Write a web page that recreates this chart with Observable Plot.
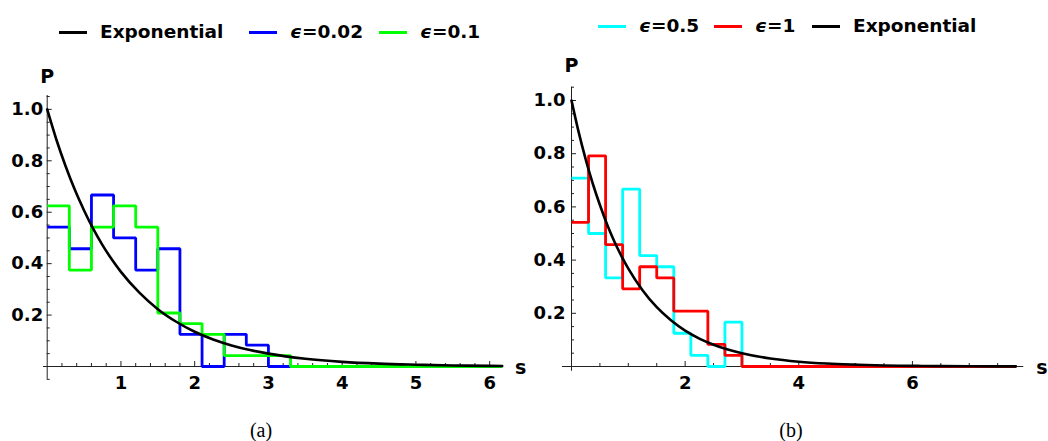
<!DOCTYPE html>
<html>
<head>
<meta charset="utf-8">
<script src="https://cdn.jsdelivr.net/npm/d3@7"></script>
<script src="https://cdn.jsdelivr.net/npm/@observablehq/plot@0.6"></script>
<style>
html, body { margin: 0; padding: 0; background: #fff; }
#root { position: relative; width: 1048px; height: 441px; overflow: hidden; font-family: "DejaVu Sans", sans-serif; }
.item { position: absolute; display: flex; align-items: center; font-weight: bold; font-size: 18.5px; white-space: nowrap; color: #000; line-height: normal; }
.item .sw { display: inline-block; width: 28px; height: 3px; margin-right: 13px; position: relative; top: 1px; }
.item i { font-style: italic; }
.chart { position: absolute; top: 60px; }
.cap { position: absolute; font-family: "Liberation Serif", serif; font-size: 20px; line-height: 20px; transform: translateX(-50%); color: #000; }
</style>
</head>
<body>
<div id="root"></div>
<script>
// ---------------- data ----------------
const binEdges = [0, 0.3, 0.6, 0.9, 1.2, 1.5, 1.8, 2.1, 2.4, 2.7, 3.0, 3.3];
const pEps002 = [0.542, 0.458, 0.667, 0.500, 0.375, 0.458, 0.125, 0.000, 0.125, 0.083, 0.000, 0.000];
const pEps01  = [0.625, 0.375, 0.542, 0.625, 0.542, 0.208, 0.167, 0.125, 0.042, 0.042, 0.042, 0.000];
const pEps05  = [0.708, 0.500, 0.333, 0.667, 0.417, 0.375, 0.125, 0.042, 0.000, 0.167, 0.000, 0.000];
const pEps1   = [0.542, 0.792, 0.458, 0.292, 0.375, 0.333, 0.208, 0.208, 0.083, 0.042, 0.000, 0.000];

// Exponential reference curve
const expS = [0, 0.125, 0.25, 0.375, 0.5, 0.625, 0.75, 0.875, 1, 1.25, 1.5, 1.75, 2, 2.25, 2.5, 2.75, 3, 3.5, 4, 4.5, 5, 5.5, 6, 6.17, 6.5, 7, 7.5, 7.82];
const expP = [1.000, 0.882, 0.779, 0.687, 0.607, 0.535, 0.472, 0.417, 0.368, 0.287, 0.223, 0.174, 0.135, 0.105, 0.082, 0.064, 0.050, 0.030, 0.018, 0.011, 0.007, 0.004, 0.0025, 0.0021, 0.0015, 0.0009, 0.0006, 0.0004];

const xTicksA = [1, 2, 3, 4, 5, 6];
const xTickLabelsA = ["1", "2", "3", "4", "5", "6"];
const xTicksB = [2, 4, 6];
const xTickLabelsB = ["2", "4", "6"];
const yTicks = [0.2, 0.4, 0.6, 0.8, 1.0];
const yTickLabels = ["0.2", "0.4", "0.6", "0.8", "1.0"];

const seriesNamesA = ["Exponential", "ϵ=0.02", "ϵ=0.1"];
const seriesColorsA = ["#000000", "#0000ff", "#00ff00"];
const seriesNamesB = ["ϵ=0.5", "ϵ=1", "Exponential"];
const seriesColorsB = ["#00ffff", "#ff0000", "#000000"];

const captions = ["(a)", "(b)"];

// ---------------- layout ----------------
const root = document.getElementById("root");
const axisColor = "#222";

function legend(names, colors, lefts, top) {
  names.forEach((n, i) => {
    const d = document.createElement("div");
    d.className = "item";
    d.style.left = lefts[i] + "px";
    d.style.top = top + "px";
    const sw = document.createElement("span");
    sw.className = "sw";
    sw.style.background = colors[i];
    d.appendChild(sw);
    const t = document.createElement("span");
    if (n.startsWith("ϵ")) {
      const it = document.createElement("i");
      it.textContent = "ϵ";
      t.appendChild(it);
      t.appendChild(document.createTextNode(n.slice(1)));
    } else t.textContent = n;
    d.appendChild(t);
    root.appendChild(d);
  });
}
legend(seriesNamesA, seriesColorsA, [59, 249, 379], 21);
legend(seriesNamesB, seriesColorsB, [598, 714, 812], 14.5);

function stepData(vals, sEnd) {
  return binEdges.map((s, i) => ({s, P: vals[i]})).concat([{s: sEnd, P: 0}]);
}

function panel(cfg) {
  const {left, width, height, mL, mR, mT, mB, xMax, yMax, xAxisStart, yAxisBottom,
         xMajor, xLabels, xMinor, yMinor, series, sEnd, yLabelDx, pDy, sDx} = cfg;
  const expData = expS.map((s, i) => ({s, P: expP[i]})).filter(d => d.s <= sEnd + 1e-9);
  const marks = [
    Plot.ruleY([0], {x1: xAxisStart, x2: xMax, stroke: axisColor, strokeWidth: 1}),
    Plot.ruleX([0], {y1: yAxisBottom, y2: yMax, stroke: axisColor, strokeWidth: 1}),
    Plot.ruleX(xMinor, {y1: 0, y2: 0, insetTop: -3, stroke: axisColor, strokeWidth: 1}),
    Plot.ruleX(xMajor, {y1: 0, y2: 0, insetTop: -5, stroke: axisColor, strokeWidth: 1}),
    Plot.ruleY(yMinor, {x1: 0, x2: 0, insetRight: -3, stroke: axisColor, strokeWidth: 1}),
    Plot.ruleY(yTicks, {x1: 0, x2: 0, insetRight: -5, stroke: axisColor, strokeWidth: 1}),
    Plot.text(xMajor, {x: d => d, y: 0, dy: 17, text: (d, i) => xLabels[i], textAnchor: "middle", lineAnchor: "middle"}),
    Plot.text(yTicks, {x: 0, y: d => d, dx: yLabelDx, text: (d, i) => yTickLabels[i], textAnchor: "end", lineAnchor: "middle"}),
  ];
  series.forEach(sr => {
    marks.push(Plot.line(stepData(sr.vals, sEnd), {x: "s", y: "P", curve: "step-after", stroke: sr.color, strokeWidth: 2.8, strokeLinejoin: "miter", strokeLinecap: "butt"}));
  });
  marks.push(Plot.line(expData, {x: "s", y: "P", curve: "monotone-x", stroke: "#000", strokeWidth: 2.6}));
  marks.push(Plot.text(["P"], {frameAnchor: "top-left", dy: pDy, text: d => d, textAnchor: "middle", lineAnchor: "bottom", fontSize: 19}));
  marks.push(Plot.text(["s"], {frameAnchor: "bottom-right", dx: sDx, dy: 7, text: d => d, textAnchor: "middle", lineAnchor: "bottom", fontSize: 19}));

  const svg = Plot.plot({
    width, height,
    marginLeft: mL, marginRight: mR, marginTop: mT, marginBottom: mB,
    x: {domain: [0, xMax], axis: null},
    y: {domain: [0, yMax], axis: null},
    style: "font-family:'DejaVu Sans',sans-serif;font-weight:bold;font-size:18px;background:transparent;overflow:visible;color:#000;",
    marks
  });
  svg.classList.add("chart");
  svg.style.left = left + "px";
  svg.style.position = "absolute";
  svg.style.top = "60px";
  root.appendChild(svg);
}

const minorX_A = d3.range(1, 31).map(k => k * 0.2).filter(v => Math.abs(v - Math.round(v)) > 1e-6);
const minorX_B = d3.range(1, 16).map(k => k * 0.5).filter(v => ![2, 4, 6].includes(v));
const minorY_A = d3.range(-1, 22).map(k => k * 0.05).filter(v => Math.abs(v) > 1e-6 && !yTicks.some(t => Math.abs(t - v) < 1e-6));
const minorY_B = d3.range(1, 22).map(k => k * 0.05).filter(v => !yTicks.some(t => Math.abs(t - v) < 1e-6));

panel({
  left: 0, width: 530, height: 340, mL: 46.7, mR: 28.3, mT: 35, mB: 34,
  xMax: 6.17, yMax: 1.054, xAxisStart: -0.05, yAxisBottom: -0.05,
  xMajor: xTicksA, xLabels: xTickLabelsA, xMinor: minorX_A, yMinor: minorY_A,
  series: [{vals: pEps002, color: seriesColorsA[1]}, {vals: pEps01, color: seriesColorsA[2]}],
  sEnd: 6.17, yLabelDx: -4, pDy: -13, sDx: 18.5
});
panel({
  left: 530, width: 518, height: 340, mL: 41, mR: 24.7, mT: 26.7, mB: 34,
  xMax: 7.96, yMax: 1.05, xAxisStart: -0.16, yAxisBottom: -0.018,
  xMajor: xTicksB, xLabels: xTickLabelsB, xMinor: minorX_B, yMinor: minorY_B,
  series: [{vals: pEps05, color: seriesColorsB[0]}, {vals: pEps1, color: seriesColorsB[1]}],
  sEnd: 7.82, yLabelDx: -6, pDy: -15.7, sDx: 18
});

[[captions[0], 261], [captions[1], 791]].forEach(([t, cx]) => {
  const d = document.createElement("div");
  d.className = "cap";
  d.style.left = cx + "px";
  d.style.top = "420px";
  d.textContent = t;
  root.appendChild(d);
});
</script>
</body>
</html>
